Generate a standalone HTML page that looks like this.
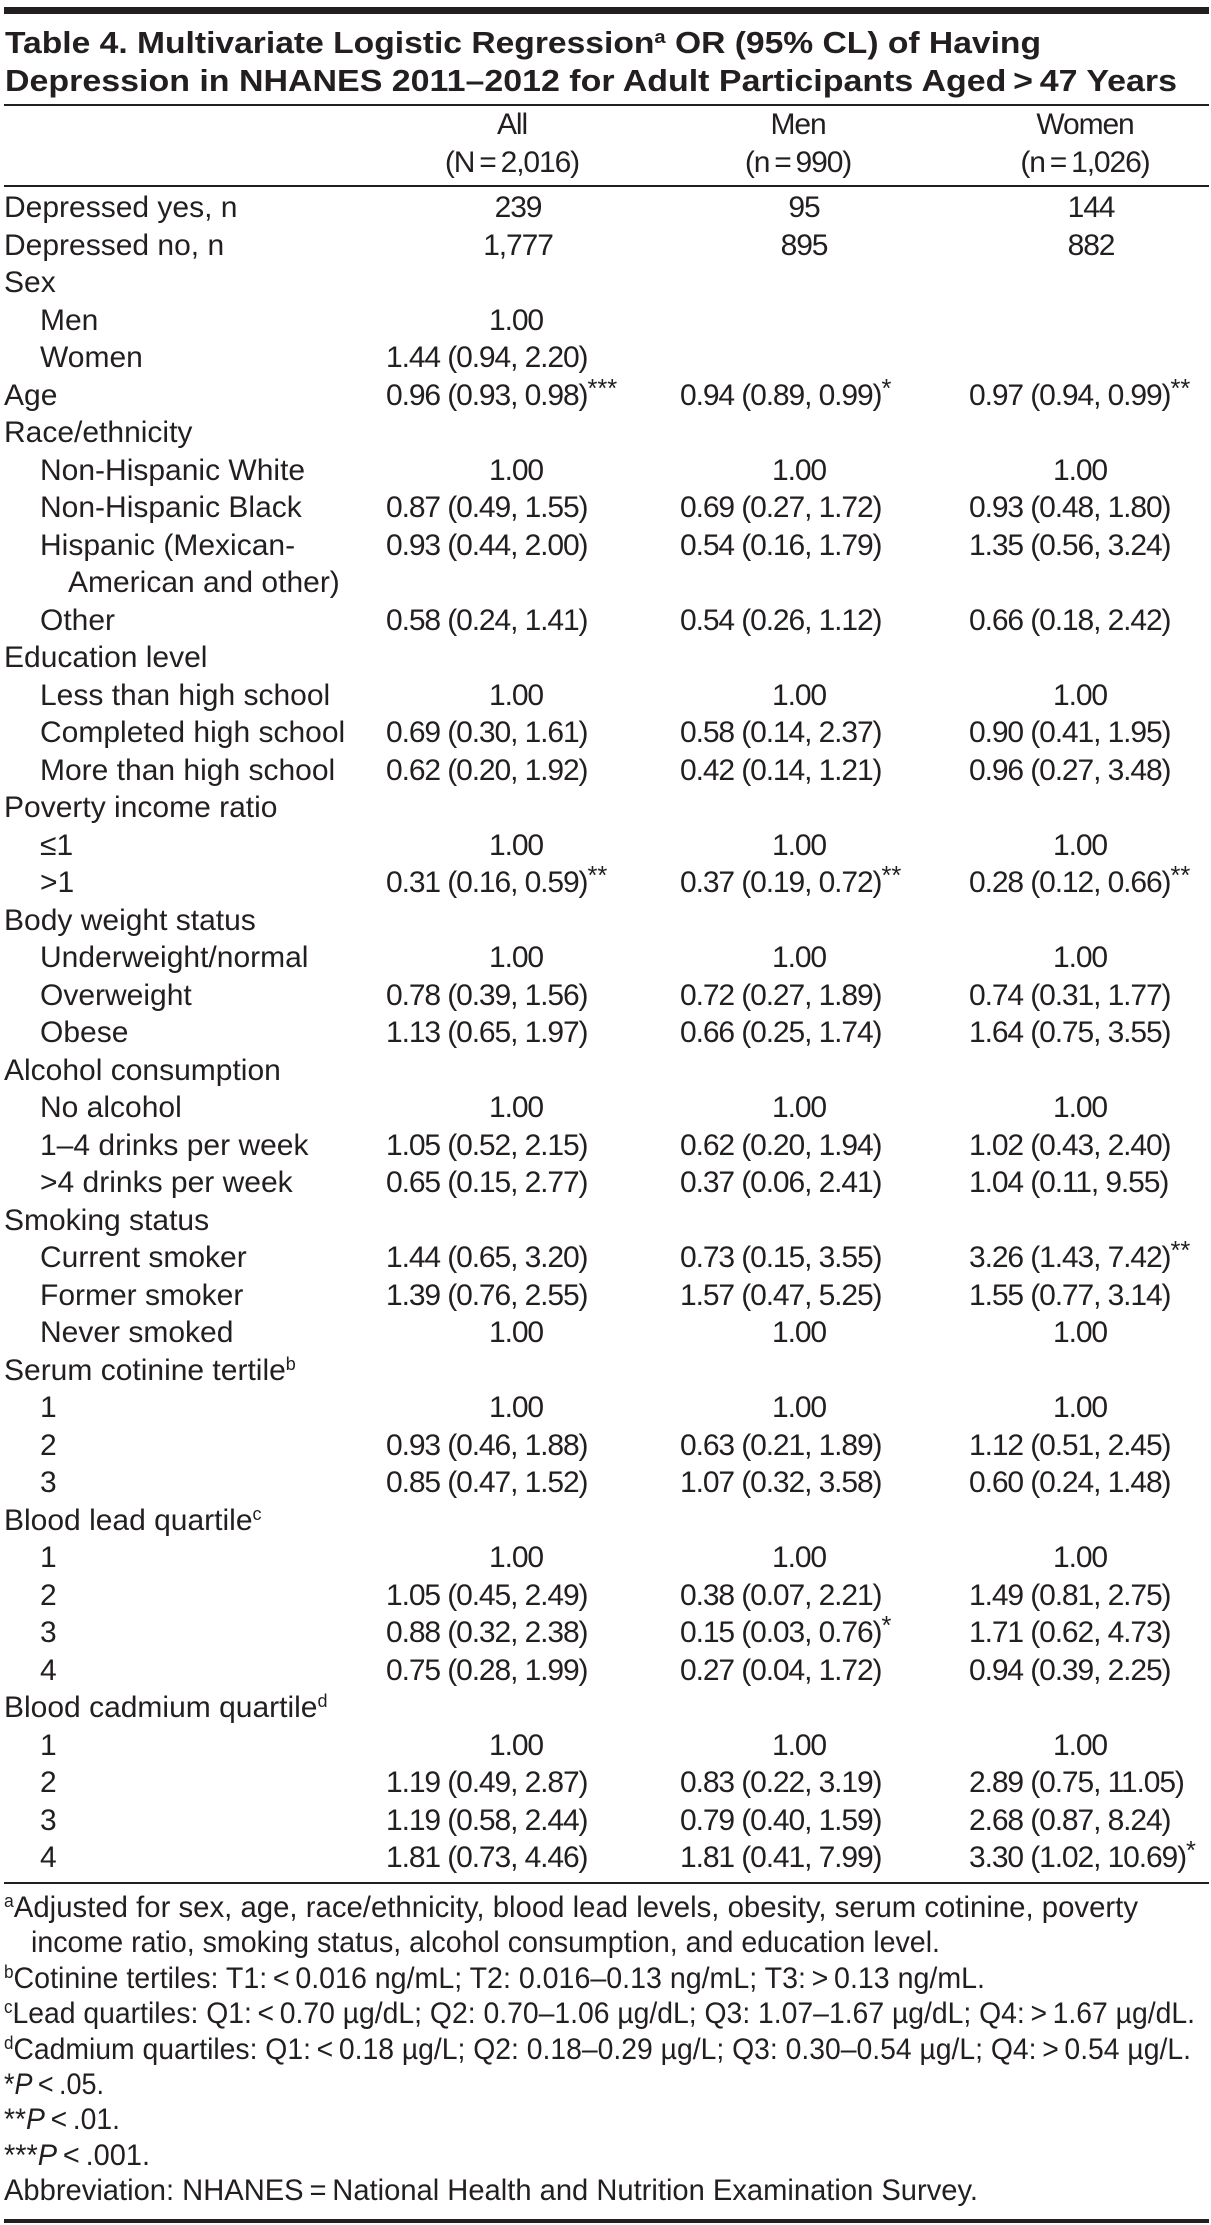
<!DOCTYPE html>
<html><head><meta charset="utf-8">
<style>
html,body{margin:0;padding:0;background:#fff;}
#page{position:relative;width:1211px;height:2225px;overflow:hidden;background:#fff;color:#231f20;font-family:"Liberation Sans",sans-serif;}
.t{position:absolute;white-space:nowrap;line-height:1;display:inline-block;transform-origin:0 0;}
.lab{font-size:30px;}
.val{font-family:"Liberation Sans Narrow","Liberation Sans",sans-serif;font-size:30px;letter-spacing:-1.1px;}
.ttl{font-family:"Liberation Sans Narrow","Liberation Sans",sans-serif;font-weight:bold;font-size:31px;}
.fn{font-family:"Liberation Sans Narrow","Liberation Sans",sans-serif;font-size:30px;}
.rule{position:absolute;left:4px;width:1205px;background:#231f20;}
sup{font-size:60%;vertical-align:0;position:relative;top:-0.55em;}
.ast{font-size:85%;position:relative;top:-0.3em;letter-spacing:0;}
</style></head>
<body>
<div id="page">
<div class="rule" style="top:7px;height:7px"></div>
<div class="rule" style="top:104px;height:2px"></div>
<div class="rule" style="top:185px;height:2px"></div>
<div class="rule" style="top:1882px;height:2px"></div>
<div class="rule" style="top:2219px;height:4px"></div>
</div>
<script>
const labels=["Depressed yes, n","Depressed no, n","Sex","Men","Women","Age","Race/ethnicity","Non-Hispanic White","Non-Hispanic Black","Hispanic (Mexican-","American and other)","Other","Education level","Less than high school","Completed high school","More than high school","Poverty income ratio","≤1","&gt;1","Body weight status","Underweight/normal","Overweight","Obese","Alcohol consumption","No alcohol","1–4 drinks per week","&gt;4 drinks per week","Smoking status","Current smoker","Former smoker","Never smoked","Serum cotinine tertile<sup>b</sup>","1","2","3","Blood lead quartile<sup>c</sup>","1","2","3","4","Blood cadmium quartile<sup>d</sup>","1","2","3","4"];
const indents=[0,0,0,1,1,0,0,1,1,1,2,1,0,1,1,1,0,1,1,0,1,1,1,0,1,1,1,0,1,1,1,0,1,1,1,0,1,1,1,1,0,1,1,1,1];
const colAll=["239","1,777","","1.00","1.44 (0.94, 2.20)","0.96 (0.93, 0.98)***","","1.00","0.87 (0.49, 1.55)","0.93 (0.44, 2.00)","","0.58 (0.24, 1.41)","","1.00","0.69 (0.30, 1.61)","0.62 (0.20, 1.92)","","1.00","0.31 (0.16, 0.59)**","","1.00","0.78 (0.39, 1.56)","1.13 (0.65, 1.97)","","1.00","1.05 (0.52, 2.15)","0.65 (0.15, 2.77)","","1.44 (0.65, 3.20)","1.39 (0.76, 2.55)","1.00","","1.00","0.93 (0.46, 1.88)","0.85 (0.47, 1.52)","","1.00","1.05 (0.45, 2.49)","0.88 (0.32, 2.38)","0.75 (0.28, 1.99)","","1.00","1.19 (0.49, 2.87)","1.19 (0.58, 2.44)","1.81 (0.73, 4.46)"];
const colMen=["95","895","","","","0.94 (0.89, 0.99)*","","1.00","0.69 (0.27, 1.72)","0.54 (0.16, 1.79)","","0.54 (0.26, 1.12)","","1.00","0.58 (0.14, 2.37)","0.42 (0.14, 1.21)","","1.00","0.37 (0.19, 0.72)**","","1.00","0.72 (0.27, 1.89)","0.66 (0.25, 1.74)","","1.00","0.62 (0.20, 1.94)","0.37 (0.06, 2.41)","","0.73 (0.15, 3.55)","1.57 (0.47, 5.25)","1.00","","1.00","0.63 (0.21, 1.89)","1.07 (0.32, 3.58)","","1.00","0.38 (0.07, 2.21)","0.15 (0.03, 0.76)*","0.27 (0.04, 1.72)","","1.00","0.83 (0.22, 3.19)","0.79 (0.40, 1.59)","1.81 (0.41, 7.99)"];
const colWomen=["144","882","","","","0.97 (0.94, 0.99)**","","1.00","0.93 (0.48, 1.80)","1.35 (0.56, 3.24)","","0.66 (0.18, 2.42)","","1.00","0.90 (0.41, 1.95)","0.96 (0.27, 3.48)","","1.00","0.28 (0.12, 0.66)**","","1.00","0.74 (0.31, 1.77)","1.64 (0.75, 3.55)","","1.00","1.02 (0.43, 2.40)","1.04 (0.11, 9.55)","","3.26 (1.43, 7.42)**","1.55 (0.77, 3.14)","1.00","","1.00","1.12 (0.51, 2.45)","0.60 (0.24, 1.48)","","1.00","1.49 (0.81, 2.75)","1.71 (0.62, 4.73)","0.94 (0.39, 2.25)","","1.00","2.89 (0.75, 11.05)","2.68 (0.87, 8.24)","3.30 (1.02, 10.69)*"];
const headers=["All","Men","Women"];
const headerNs=["(N&thinsp;=&thinsp;2,016)","(n&thinsp;=&thinsp;990)","(n&thinsp;=&thinsp;1,026)"];
const footnotes=["<sup>a</sup>Adjusted for sex, age, race/ethnicity, blood lead levels, obesity, serum cotinine, poverty","income ratio, smoking status, alcohol consumption, and education level.","<sup>b</sup>Cotinine tertiles: T1:&thinsp;&lt;&thinsp;0.016 ng/mL; T2: 0.016–0.13 ng/mL; T3:&thinsp;&gt;&thinsp;0.13 ng/mL.","<sup>c</sup>Lead quartiles: Q1:&thinsp;&lt;&thinsp;0.70 µg/dL; Q2: 0.70–1.06 µg/dL; Q3: 1.07–1.67 µg/dL; Q4:&thinsp;&gt;&thinsp;1.67 µg/dL.","<sup>d</sup>Cadmium quartiles: Q1:&thinsp;&lt;&thinsp;0.18 µg/L; Q2: 0.18–0.29 µg/L; Q3: 0.30–0.54 µg/L; Q4:&thinsp;&gt;&thinsp;0.54 µg/L.","*<i>P</i>&thinsp;&lt;&thinsp;.05.","**<i>P</i>&thinsp;&lt;&thinsp;.01.","***<i>P</i>&thinsp;&lt;&thinsp;.001.","Abbreviation: NHANES&thinsp;=&thinsp;National Health and Nutrition Examination Survey."];
const fnWidths=[1138,940,985,1195,1191,104,120,150,978];
const fnLeft=[4,31,4,4,4,4,4,4,4];

const page=document.getElementById('page');
function mk(cls,html,x,baseline,name){
  const d=document.createElement('div');
  d.className='t '+cls;
  d.innerHTML=html;
  d.style.left=x+'px';
  d.style.top=(baseline-27)+'px';
  
  
  page.appendChild(d);
  return d;
}
function fit(d,w){const cw=d.getBoundingClientRect().width;if(cw>0)d.style.transform='scaleX('+(w/cw)+')';}
function center(d,cx){const w=d.getBoundingClientRect().width;d.style.left=(cx-w/2)+'px';}

const t1=mk('ttl','Table 4. Multivariate Logistic Regression<sup>a</sup> OR (95% CL) of Having',5,54,'title-line-1');fit(t1,1036);
const t2=mk('ttl','Depression in NHANES 2011–2012 for Adult Participants Aged&thinsp;&gt;&thinsp;47 Years',5,92,'title-line-2');fit(t2,1172);

const colCenters=[512,798,1085];
const colLefts=[386,680,969];
const oneCenters=[516,799,1080];
for(let c=0;c<3;c++){
  const h=mk('val',headers[c],0,137,'column-header-'+headers[c].toLowerCase());center(h,colCenters[c]);
  const n=mk('val',headerNs[c],0,175,'column-n-'+headers[c].toLowerCase());center(n,colCenters[c]);
}
const cols=[colAll,colMen,colWomen];
const colNames=['all','men','women'];
for(let i=0;i<labels.length;i++){
  const base=220+37.5*i;
  const ind=[4,40,68][indents[i]];
  mk('lab',labels[i],ind,base,'row-label-'+i);
  for(let c=0;c<3;c++){
    const v=cols[c][i];
    if(!v)continue;
    const m=v.match(/^(.*?)(\**)$/);
    let html=m[1];
    if(m[2])html+='<span class="ast">'+m[2]+'</span>';
    const d=mk('val',html,colLefts[c],base,'cell-'+colNames[c]+'-'+i);
    if(i<2){const w=d.getBoundingClientRect().width;d.style.left=(colCenters[c]+6-w/2)+'px';}
    else if(v==='1.00'){center(d,oneCenters[c]);}
  }
}
for(let k=0;k<footnotes.length;k++){
  const d=mk('fn',footnotes[k],fnLeft[k],1920+35.4*k,'footnote-'+k);
  fit(d,fnWidths[k]-fnLeft[k]);
}
</script>
</body></html>
